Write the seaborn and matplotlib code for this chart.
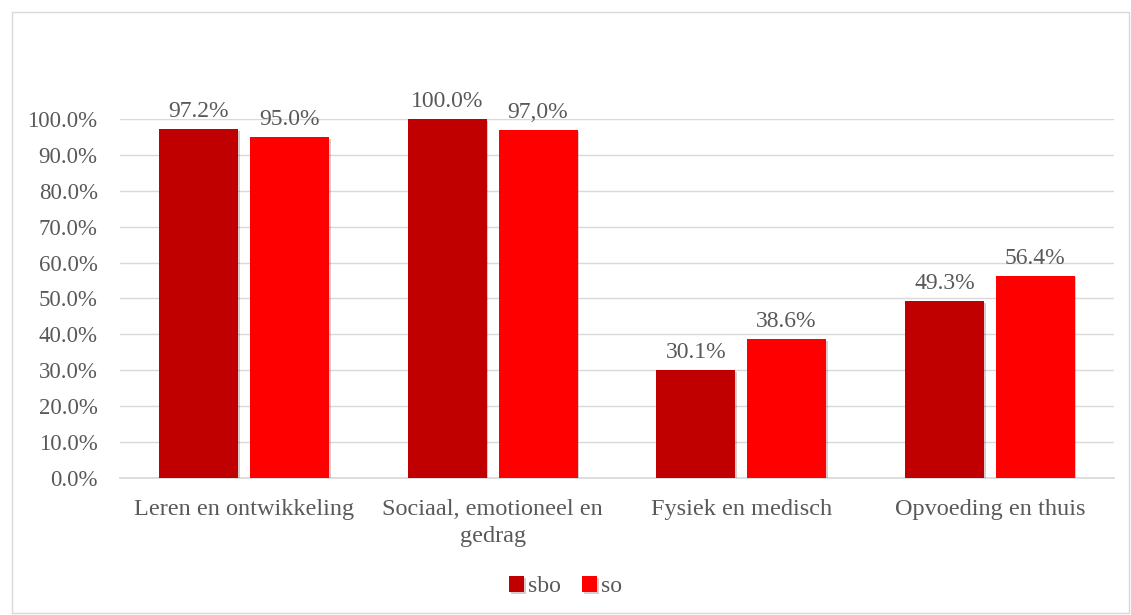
import matplotlib
matplotlib.use("Agg")
import matplotlib.pyplot as plt
import matplotlib.patheffects as pe
from matplotlib.patches import Rectangle
import seaborn as sns
import pandas as pd

categories = ["Leren en ontwikkeling", "Sociaal, emotioneel en\ngedrag",
              "Fysiek en medisch", "Opvoeding en thuis"]
series = ["sbo", "so"]
sbo_values = [97.2, 100.0, 30.1, 49.3]
so_values = [95.0, 97.0, 38.6, 56.4]
sbo_labels = ["97.2%", "100.0%", "30.1%", "49.3%"]
so_labels = ["95.0%", "97,0%", "38.6%", "56.4%"]
ytick_values = [0, 10, 20, 30, 40, 50, 60, 70, 80, 90, 100]
colors = ["#C00000", "#FF0000"]

df = pd.DataFrame({
    "category": categories * 2,
    "series": [series[0]] * 4 + [series[1]] * 4,
    "value": sbo_values + so_values,
})

sns.set_theme(style="white")
plt.rcParams["font.family"] = ["Liberation Serif", "DejaVu Serif"]
txt = "#595959"
fs = 16.5

fig = plt.figure(figsize=(11.31, 6.15), dpi=100)
ax = fig.add_axes([0.106, 0.2228, 0.879, 0.5837])

sns.barplot(data=df, x="category", y="value", hue="series", order=categories,
            hue_order=series, palette=colors, width=0.73, gap=0.13,
            saturation=1, ax=ax, legend=True, zorder=3, linewidth=0)

for bar in ax.patches:
    bar.set_path_effects([pe.SimplePatchShadow(offset=(1.2, -1.2), alpha=0.2), pe.Normal()])

for cont, labs in zip(ax.containers, [sbo_labels, so_labels]):
    ax.bar_label(cont, labels=labs, padding=5, fontsize=17, color=txt, clip_on=False)

ax.set_ylim(0, 100)
ax.set_xlim(-0.5, 3.5)
ax.set_yticks(ytick_values)
ax.set_yticklabels([f"{v:.1f}%" for v in ytick_values])
ax.yaxis.grid(True, color="#D9D9D9", linewidth=1, zorder=0)
ax.set_axisbelow(True)
for s in ["top", "right", "left"]:
    ax.spines[s].set_visible(False)
ax.spines["bottom"].set_color("#D9D9D9")
ax.tick_params(axis="y", length=0, pad=16, labelsize=fs, labelcolor=txt)
ax.tick_params(axis="x", length=0, pad=15, labelsize=17.5, labelcolor=txt)
for t in ax.get_xticklabels():
    t.set_linespacing(1.4)
ax.set_xlabel("")
ax.set_ylabel("")

leg = ax.legend(loc="center", bbox_to_anchor=(0.5, 0.046), bbox_transform=fig.transFigure,
                ncol=2, frameon=False, fontsize=17, handlelength=0.65, handleheight=0.65,
                handletextpad=0.15, columnspacing=0.9)
for t in leg.get_texts():
    t.set_color(txt)

fig.patches.append(Rectangle((12 / 1131, 2 / 615), 1117 / 1131, 601 / 615,
                             transform=fig.transFigure, fill=False,
                             edgecolor="#D9D9D9", linewidth=1))

fig.savefig("out.png", dpi=100)
